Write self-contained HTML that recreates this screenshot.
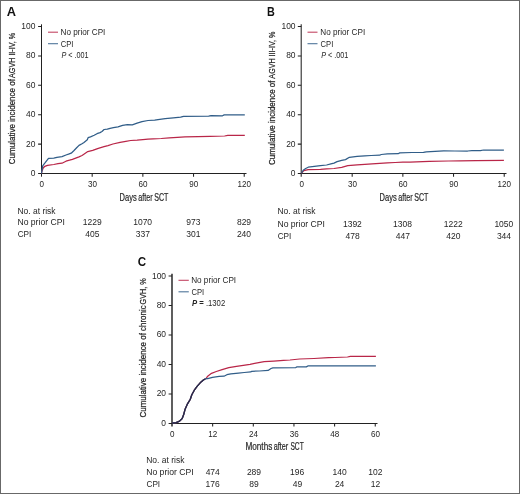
<!DOCTYPE html>
<html><head><meta charset="utf-8"><style>
html,body{margin:0;padding:0;background:#fff;}
svg{display:block;will-change:transform;}
text{font-family:"Liberation Sans",sans-serif;}
</style></head><body>
<svg width="520" height="494" viewBox="0 0 520 494">
<rect x="0" y="0" width="520" height="494" fill="#fff"/>
<text x="6.78" y="15.60" font-size="12.3" textLength="9.27" lengthAdjust="spacingAndGlyphs" font-weight="bold" font-style="normal" fill="#111" >A</text>
<path d="M41.5,24.3 V176.7" stroke="#222" stroke-width="1.05" fill="none"/>
<path d="M38.1,173.5 H246.5" stroke="#222" stroke-width="1.05" fill="none"/>
<path d="M38.1,144.10 H41.5 M38.1,114.70 H41.5 M38.1,85.30 H41.5 M38.1,55.90 H41.5 M38.1,26.50 H41.5 M92.18,173.5 V176.7 M142.86,173.5 V176.7 M193.54,173.5 V176.7 M244.22,173.5 V176.7 " stroke="#222" stroke-width="1.05" fill="none"/>
<text x="30.64" y="176.00" font-size="9.2" fill="#262626" textLength="4.71" lengthAdjust="spacingAndGlyphs">0</text>
<text x="25.94" y="146.60" font-size="9.2" fill="#262626" textLength="9.41" lengthAdjust="spacingAndGlyphs">20</text>
<text x="25.94" y="117.20" font-size="9.2" fill="#262626" textLength="9.41" lengthAdjust="spacingAndGlyphs">40</text>
<text x="25.94" y="87.80" font-size="9.2" fill="#262626" textLength="9.41" lengthAdjust="spacingAndGlyphs">60</text>
<text x="25.94" y="58.40" font-size="9.2" fill="#262626" textLength="9.41" lengthAdjust="spacingAndGlyphs">80</text>
<text x="21.25" y="29.00" font-size="9.2" fill="#262626" textLength="14.12" lengthAdjust="spacingAndGlyphs">100</text>
<text x="39.45" y="187.20" font-size="8.8" fill="#262626" textLength="4.50" lengthAdjust="spacingAndGlyphs">0</text>
<text x="87.89" y="187.20" font-size="8.8" fill="#262626" textLength="9.01" lengthAdjust="spacingAndGlyphs">30</text>
<text x="138.53" y="187.20" font-size="8.8" fill="#262626" textLength="9.01" lengthAdjust="spacingAndGlyphs">60</text>
<text x="189.23" y="187.20" font-size="8.8" fill="#262626" textLength="9.01" lengthAdjust="spacingAndGlyphs">90</text>
<text x="237.54" y="187.20" font-size="8.8" fill="#262626" textLength="13.51" lengthAdjust="spacingAndGlyphs">120</text>
<text x="119.60" y="200.60" font-size="10.6" textLength="17.15" lengthAdjust="spacingAndGlyphs" font-weight="normal" font-style="normal" fill="#262626" stroke="#262626" stroke-width="0.2">Days</text>
<text x="138.18" y="200.60" font-size="10.6" textLength="14.44" lengthAdjust="spacingAndGlyphs" font-weight="normal" font-style="normal" fill="#262626" stroke="#262626" stroke-width="0.2">after</text>
<text x="154.18" y="200.60" font-size="10.6" textLength="14.16" lengthAdjust="spacingAndGlyphs" font-weight="normal" font-style="normal" fill="#262626" stroke="#262626" stroke-width="0.2">SCT</text>
<text transform="translate(15.20,164.20) rotate(-90)" x="0" y="0" font-size="9.9" textLength="85.18" lengthAdjust="spacingAndGlyphs" fill="#262626" stroke="#262626" stroke-width="0.25">Cumulative incidence of</text>
<text transform="translate(15.20,77.94) rotate(-90)" x="0" y="0" font-size="9.9" textLength="45.18" lengthAdjust="spacingAndGlyphs" fill="#262626" stroke="#262626" stroke-width="0.25">AGVH II-IV, %</text>
<path d="M48,32.2 H58" stroke="#b92648" stroke-width="1.1" opacity="0.85"/>
<path d="M48,43.7 H58" stroke="#305d88" stroke-width="1.1" opacity="0.85"/>
<text x="60.55" y="34.90" font-size="8.2" textLength="44.80" lengthAdjust="spacingAndGlyphs" font-weight="normal" font-style="normal" fill="#262626" >No prior CPI</text>
<text x="60.82" y="46.50" font-size="8.2" textLength="12.68" lengthAdjust="spacingAndGlyphs" font-weight="normal" font-style="normal" fill="#262626" >CPI</text>
<text x="61.40" y="57.50" font-size="8.2" fill="#262626" textLength="27.20" lengthAdjust="spacingAndGlyphs"><tspan font-style="italic">P</tspan> &lt; .001</text>
<text x="17.42" y="213.90" font-size="8.4" textLength="38.19" lengthAdjust="spacingAndGlyphs" font-weight="normal" font-style="normal" fill="#262626" >No. at risk</text>
<text x="17.41" y="225.10" font-size="8.4" textLength="47.38" lengthAdjust="spacingAndGlyphs" font-weight="normal" font-style="normal" fill="#262626" >No prior CPI</text>
<text x="17.69" y="236.80" font-size="8.4" textLength="13.66" lengthAdjust="spacingAndGlyphs" font-weight="normal" font-style="normal" fill="#262626" >CPI</text>
<text x="82.72" y="224.70" font-size="8.5" fill="#262626">1229</text>
<text x="85.29" y="236.80" font-size="8.5" fill="#262626">405</text>
<text x="133.20" y="224.70" font-size="8.5" fill="#262626">1070</text>
<text x="135.77" y="236.80" font-size="8.5" fill="#262626">337</text>
<text x="186.22" y="224.70" font-size="8.5" fill="#262626">973</text>
<text x="186.27" y="236.80" font-size="8.5" fill="#262626">301</text>
<text x="236.92" y="224.70" font-size="8.5" fill="#262626">829</text>
<text x="236.88" y="236.80" font-size="8.5" fill="#262626">240</text>
<path d="M41.50,173.30 L41.70,172.10 L43.00,168.20 L44.80,166.30 L47.50,165.30 L53.80,164.50 L58.00,163.70 L62.00,163.20 L66.00,161.20 L69.50,160.20 L72.40,159.30 L79.00,156.90 L82.00,155.50 L83.50,154.50 L87.80,151.60 L92.70,150.40 L98.30,148.30 L104.00,146.70 L108.00,145.60 L112.90,144.00 L120.10,142.40 L125.80,141.40 L130.70,140.50 L137.10,140.10 L142.80,139.60 L148.00,139.10 L153.10,138.90 L161.20,138.50 L169.30,137.90 L177.40,137.30 L185.00,136.90 L198.20,136.60 L210.00,136.30 L224.60,136.00 L227.80,135.40 L244.80,135.40" stroke="#b92648" stroke-width="1.25" fill="none" stroke-linejoin="round"/>
<path d="M41.50,173.30 L41.70,172.10 L42.70,165.80 L44.80,163.20 L48.50,158.40 L53.80,158.20 L56.90,157.40 L62.00,156.60 L66.00,155.00 L68.50,154.20 L71.20,153.20 L73.80,150.70 L76.40,148.00 L79.00,145.40 L82.00,143.80 L84.00,142.40 L87.30,139.70 L88.10,137.70 L90.50,136.90 L94.20,135.30 L97.00,133.70 L100.00,132.60 L102.00,131.50 L104.10,129.50 L107.30,129.10 L110.10,128.30 L113.40,127.70 L118.00,126.90 L122.60,125.40 L127.40,124.60 L132.30,124.90 L137.10,123.20 L142.00,121.70 L148.00,120.50 L154.70,120.20 L158.00,119.60 L165.20,118.60 L173.30,117.80 L180.60,117.10 L183.60,116.40 L208.70,116.20 L211.10,115.60 L222.50,115.80 L224.20,114.90 L244.80,114.90" stroke="#305d88" stroke-width="1.25" fill="none" stroke-linejoin="round"/>
<text x="267.10" y="15.60" font-size="12.3" textLength="7.81" lengthAdjust="spacingAndGlyphs" font-weight="bold" font-style="normal" fill="#111" >B</text>
<path d="M301.2,24.3 V176.7" stroke="#222" stroke-width="1.05" fill="none"/>
<path d="M297.8,173.5 H506.5" stroke="#222" stroke-width="1.05" fill="none"/>
<path d="M297.8,144.10 H301.2 M297.8,114.70 H301.2 M297.8,85.30 H301.2 M297.8,55.90 H301.2 M297.8,26.50 H301.2 M352.18,173.5 V176.7 M402.86,173.5 V176.7 M453.54,173.5 V176.7 M504.22,173.5 V176.7 " stroke="#222" stroke-width="1.05" fill="none"/>
<text x="290.84" y="176.00" font-size="9.2" fill="#262626" textLength="4.71" lengthAdjust="spacingAndGlyphs">0</text>
<text x="286.14" y="146.60" font-size="9.2" fill="#262626" textLength="9.41" lengthAdjust="spacingAndGlyphs">20</text>
<text x="286.14" y="117.20" font-size="9.2" fill="#262626" textLength="9.41" lengthAdjust="spacingAndGlyphs">40</text>
<text x="286.14" y="87.80" font-size="9.2" fill="#262626" textLength="9.41" lengthAdjust="spacingAndGlyphs">60</text>
<text x="286.14" y="58.40" font-size="9.2" fill="#262626" textLength="9.41" lengthAdjust="spacingAndGlyphs">80</text>
<text x="281.45" y="29.00" font-size="9.2" fill="#262626" textLength="14.12" lengthAdjust="spacingAndGlyphs">100</text>
<text x="299.45" y="187.40" font-size="8.8" fill="#262626" textLength="4.50" lengthAdjust="spacingAndGlyphs">0</text>
<text x="347.89" y="187.40" font-size="8.8" fill="#262626" textLength="9.01" lengthAdjust="spacingAndGlyphs">30</text>
<text x="398.53" y="187.40" font-size="8.8" fill="#262626" textLength="9.01" lengthAdjust="spacingAndGlyphs">60</text>
<text x="449.23" y="187.40" font-size="8.8" fill="#262626" textLength="9.01" lengthAdjust="spacingAndGlyphs">90</text>
<text x="497.54" y="187.40" font-size="8.8" fill="#262626" textLength="13.51" lengthAdjust="spacingAndGlyphs">120</text>
<text x="379.60" y="201.00" font-size="10.6" textLength="17.15" lengthAdjust="spacingAndGlyphs" font-weight="normal" font-style="normal" fill="#262626" stroke="#262626" stroke-width="0.2">Days</text>
<text x="398.18" y="201.00" font-size="10.6" textLength="14.44" lengthAdjust="spacingAndGlyphs" font-weight="normal" font-style="normal" fill="#262626" stroke="#262626" stroke-width="0.2">after</text>
<text x="414.18" y="201.00" font-size="10.6" textLength="14.16" lengthAdjust="spacingAndGlyphs" font-weight="normal" font-style="normal" fill="#262626" stroke="#262626" stroke-width="0.2">SCT</text>
<text transform="translate(275.40,165.00) rotate(-90)" x="0" y="0" font-size="9.9" textLength="84.47" lengthAdjust="spacingAndGlyphs" fill="#262626" stroke="#262626" stroke-width="0.25">Cumulative incidence of</text>
<text transform="translate(275.40,78.64) rotate(-90)" x="0" y="0" font-size="9.9" textLength="46.99" lengthAdjust="spacingAndGlyphs" fill="#262626" stroke="#262626" stroke-width="0.25">AGVH III-IV, %</text>
<path d="M307.5,32.2 H317.5" stroke="#b92648" stroke-width="1.1" opacity="0.85"/>
<path d="M307.5,43.7 H317.5" stroke="#305d88" stroke-width="1.1" opacity="0.85"/>
<text x="320.35" y="34.90" font-size="8.2" textLength="44.80" lengthAdjust="spacingAndGlyphs" font-weight="normal" font-style="normal" fill="#262626" >No prior CPI</text>
<text x="320.62" y="46.50" font-size="8.2" textLength="12.68" lengthAdjust="spacingAndGlyphs" font-weight="normal" font-style="normal" fill="#262626" >CPI</text>
<text x="321.20" y="57.50" font-size="8.2" fill="#262626" textLength="27.20" lengthAdjust="spacingAndGlyphs"><tspan font-style="italic">P</tspan> &lt; .001</text>
<text x="277.42" y="214.00" font-size="8.4" textLength="38.19" lengthAdjust="spacingAndGlyphs" font-weight="normal" font-style="normal" fill="#262626" >No. at risk</text>
<text x="277.41" y="226.80" font-size="8.4" textLength="47.38" lengthAdjust="spacingAndGlyphs" font-weight="normal" font-style="normal" fill="#262626" >No prior CPI</text>
<text x="277.69" y="238.90" font-size="8.4" textLength="13.66" lengthAdjust="spacingAndGlyphs" font-weight="normal" font-style="normal" fill="#262626" >CPI</text>
<text x="342.94" y="226.80" font-size="8.5" fill="#262626">1392</text>
<text x="345.49" y="238.90" font-size="8.5" fill="#262626">478</text>
<text x="393.09" y="226.80" font-size="8.5" fill="#262626">1308</text>
<text x="395.73" y="238.90" font-size="8.5" fill="#262626">447</text>
<text x="443.74" y="226.80" font-size="8.5" fill="#262626">1222</text>
<text x="446.29" y="238.90" font-size="8.5" fill="#262626">420</text>
<text x="494.39" y="226.80" font-size="8.5" fill="#262626">1050</text>
<text x="496.88" y="238.90" font-size="8.5" fill="#262626">344</text>
<path d="M301.50,173.30 L301.80,172.70 L303.80,170.60 L308.20,169.70 L320.50,169.30 L326.60,168.80 L334.00,168.50 L341.70,167.30 L347.80,165.60 L357.10,164.90 L364.80,164.30 L372.00,163.80 L379.70,163.30 L387.40,162.90 L395.10,162.50 L402.80,162.20 L410.00,162.10 L429.20,161.40 L448.50,161.00 L460.00,160.80 L476.20,160.60 L503.90,160.40" stroke="#b92648" stroke-width="1.25" fill="none" stroke-linejoin="round"/>
<path d="M301.50,173.30 L301.80,172.70 L303.20,170.30 L305.70,168.50 L308.20,167.20 L314.30,166.30 L320.50,165.70 L326.60,165.00 L330.90,163.80 L334.00,163.10 L337.10,161.60 L341.70,160.40 L345.50,159.60 L349.40,157.30 L357.10,156.40 L364.80,155.80 L371.20,155.50 L379.70,155.20 L381.20,154.50 L387.40,153.80 L398.20,153.70 L399.70,152.90 L412.00,152.50 L423.50,152.40 L426.30,151.80 L443.70,150.90 L455.00,151.00 L467.70,151.00 L471.90,150.70 L480.40,150.70 L483.60,150.00 L503.90,150.00" stroke="#305d88" stroke-width="1.25" fill="none" stroke-linejoin="round"/>
<text x="137.64" y="265.70" font-size="12.3" textLength="8.38" lengthAdjust="spacingAndGlyphs" font-weight="bold" font-style="normal" fill="#111" >C</text>
<path d="M172.0,273.8 V426.59999999999997" stroke="#222" stroke-width="1.45" fill="none"/>
<path d="M168.6,423.4 H377.5" stroke="#222" stroke-width="1.05" fill="none"/>
<path d="M168.6,393.92 H172.0 M168.6,364.44 H172.0 M168.6,334.96 H172.0 M168.6,305.48 H172.0 M168.6,276.00 H172.0 M212.65,423.4 V426.59999999999997 M253.30,423.4 V426.59999999999997 M293.95,423.4 V426.59999999999997 M334.60,423.4 V426.59999999999997 M375.25,423.4 V426.59999999999997 " stroke="#222" stroke-width="1.05" fill="none"/>
<text x="161.34" y="425.90" font-size="9.2" fill="#262626" textLength="4.71" lengthAdjust="spacingAndGlyphs">0</text>
<text x="156.64" y="396.42" font-size="9.2" fill="#262626" textLength="9.41" lengthAdjust="spacingAndGlyphs">20</text>
<text x="156.64" y="366.94" font-size="9.2" fill="#262626" textLength="9.41" lengthAdjust="spacingAndGlyphs">40</text>
<text x="156.64" y="337.46" font-size="9.2" fill="#262626" textLength="9.41" lengthAdjust="spacingAndGlyphs">60</text>
<text x="156.64" y="307.98" font-size="9.2" fill="#262626" textLength="9.41" lengthAdjust="spacingAndGlyphs">80</text>
<text x="151.95" y="278.50" font-size="9.2" fill="#262626" textLength="14.12" lengthAdjust="spacingAndGlyphs">100</text>
<text x="169.95" y="436.60" font-size="8.8" fill="#262626" textLength="4.50" lengthAdjust="spacingAndGlyphs">0</text>
<text x="208.26" y="436.60" font-size="8.8" fill="#262626" textLength="9.01" lengthAdjust="spacingAndGlyphs">12</text>
<text x="248.93" y="436.60" font-size="8.8" fill="#262626" textLength="9.01" lengthAdjust="spacingAndGlyphs">24</text>
<text x="289.68" y="436.60" font-size="8.8" fill="#262626" textLength="9.01" lengthAdjust="spacingAndGlyphs">36</text>
<text x="330.37" y="436.60" font-size="8.8" fill="#262626" textLength="9.01" lengthAdjust="spacingAndGlyphs">48</text>
<text x="370.92" y="436.60" font-size="8.8" fill="#262626" textLength="9.01" lengthAdjust="spacingAndGlyphs">60</text>
<text x="245.45" y="450.10" font-size="10.6" textLength="26.84" lengthAdjust="spacingAndGlyphs" font-weight="normal" font-style="normal" fill="#262626" stroke="#262626" stroke-width="0.2">Months</text>
<text x="273.67" y="450.10" font-size="10.6" textLength="14.54" lengthAdjust="spacingAndGlyphs" font-weight="normal" font-style="normal" fill="#262626" stroke="#262626" stroke-width="0.2">after</text>
<text x="290.40" y="450.10" font-size="10.6" textLength="13.33" lengthAdjust="spacingAndGlyphs" font-weight="normal" font-style="normal" fill="#262626" stroke="#262626" stroke-width="0.2">SCT</text>
<text transform="translate(146.30,417.50) rotate(-90)" x="0" y="0" font-size="9.9" textLength="112.18" lengthAdjust="spacingAndGlyphs" fill="#262626" stroke="#262626" stroke-width="0.25">Cumulative incidence of chronic</text>
<text transform="translate(146.30,304.46) rotate(-90)" x="0" y="0" font-size="9.9" textLength="26.09" lengthAdjust="spacingAndGlyphs" fill="#262626" stroke="#262626" stroke-width="0.25">GVH, %</text>
<path d="M178.5,280.3 H188.8" stroke="#b92648" stroke-width="1.1" opacity="0.85"/>
<path d="M178.5,291.8 H188.8" stroke="#305d88" stroke-width="1.1" opacity="0.85"/>
<text x="191.15" y="283.40" font-size="8.2" textLength="45.00" lengthAdjust="spacingAndGlyphs" font-weight="normal" font-style="normal" fill="#262626" >No prior CPI</text>
<text x="191.42" y="295.00" font-size="8.2" textLength="12.68" lengthAdjust="spacingAndGlyphs" font-weight="normal" font-style="normal" fill="#262626" >CPI</text>
<text x="192.00" y="306.30" font-size="8.2" fill="#262626" textLength="33.20" lengthAdjust="spacingAndGlyphs"><tspan font-style="italic" font-weight="bold">P</tspan> <tspan font-weight="bold">=</tspan> .1302</text>
<text x="146.22" y="463.35" font-size="8.4" textLength="38.19" lengthAdjust="spacingAndGlyphs" font-weight="normal" font-style="normal" fill="#262626" >No. at risk</text>
<text x="146.21" y="475.00" font-size="8.4" textLength="47.38" lengthAdjust="spacingAndGlyphs" font-weight="normal" font-style="normal" fill="#262626" >No prior CPI</text>
<text x="146.49" y="486.80" font-size="8.4" textLength="13.66" lengthAdjust="spacingAndGlyphs" font-weight="normal" font-style="normal" fill="#262626" >CPI</text>
<text x="205.64" y="475.00" font-size="8.5" fill="#262626">474</text>
<text x="205.50" y="486.80" font-size="8.5" fill="#262626">176</text>
<text x="246.90" y="475.00" font-size="8.5" fill="#262626">289</text>
<text x="249.28" y="486.80" font-size="8.5" fill="#262626">89</text>
<text x="290.10" y="475.00" font-size="8.5" fill="#262626">196</text>
<text x="292.67" y="486.80" font-size="8.5" fill="#262626">49</text>
<text x="332.47" y="475.00" font-size="8.5" fill="#262626">140</text>
<text x="334.90" y="486.80" font-size="8.5" fill="#262626">24</text>
<text x="368.32" y="475.00" font-size="8.5" fill="#262626">102</text>
<text x="370.68" y="486.80" font-size="8.5" fill="#262626">12</text>
<path d="M172.00,423.10 L176.10,422.60 L179.60,421.10 L182.20,418.50 L183.70,414.50 L185.20,408.90 L187.20,404.40 L190.30,399.30 L191.80,394.70 L194.30,390.20 L197.30,386.10 L200.40,382.60 L203.40,380.00 L206.00,378.60 L207.70,376.20 L211.50,373.30 L216.30,371.50 L222.10,369.60 L228.80,367.70 L236.50,366.30 L243.30,365.30 L250.00,364.30 L254.60,363.30 L264.20,361.70 L273.80,361.10 L283.50,360.40 L290.00,360.00 L299.60,359.00 L314.00,358.50 L328.50,357.70 L335.00,357.50 L347.50,357.00 L350.40,356.30 L375.90,356.30" stroke="#b92648" stroke-width="1.25" fill="none" stroke-linejoin="round"/>
<path d="M172.00,423.10 L176.10,422.60 L179.60,421.10 L182.20,418.50 L183.70,414.50 L185.20,408.90 L187.20,404.40 L190.30,399.30 L191.80,394.70 L194.30,390.20 L197.30,386.10 L200.40,382.60 L203.40,380.00 L206.00,378.60 L207.70,378.60 L212.50,377.30 L219.20,376.30 L224.00,376.20 L226.90,374.70 L230.80,373.80 L238.50,373.10 L244.20,372.50 L250.80,371.90 L251.70,371.30 L259.40,371.00 L268.10,370.40 L271.00,368.50 L272.90,367.80 L295.80,367.60 L296.70,366.90 L306.30,366.90 L308.30,365.75 L375.90,365.75" stroke="#305d88" stroke-width="1.25" fill="none" stroke-linejoin="round"/>
<path d="M172.00,423.10 L176.10,422.60 L179.60,421.10 L182.20,418.50 L183.70,414.50 L185.20,408.90 L187.20,404.40 L190.30,399.30 L191.80,394.70 L194.30,390.20 L197.30,386.10 L200.40,382.60 L203.40,380.00 L205.00,379.00" stroke="#2a2846" stroke-width="1.3" fill="none" stroke-linejoin="round"/>
<rect x="0.5" y="0.5" width="519" height="493" fill="none" stroke="#686868" stroke-width="1"/>
</svg>
</body></html>
